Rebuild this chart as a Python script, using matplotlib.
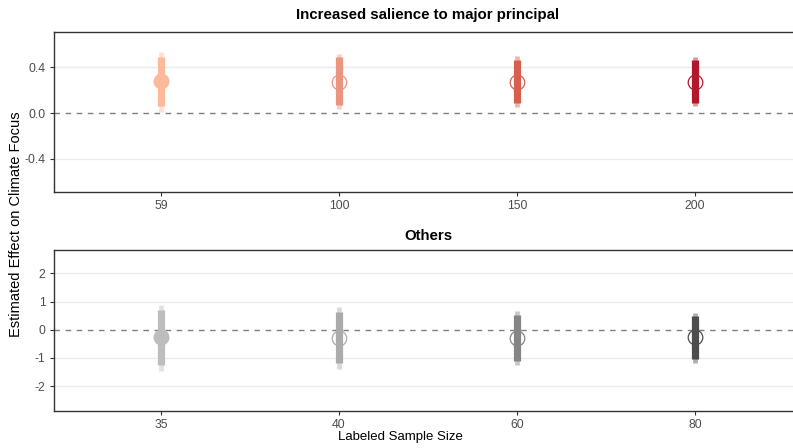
import matplotlib
matplotlib.use("Agg")
import matplotlib.pyplot as plt

plt.rcParams['font.family'] = ['Liberation Sans', 'DejaVu Sans']

# Top panel: increased salience to major principal
top_sizes = ["59", "100", "150", "200"]
top_est = [0.278, 0.276, 0.276, 0.276]
top_lo90 = [0.062, 0.070, 0.086, 0.092]
top_hi90 = [0.492, 0.490, 0.462, 0.462]
top_lo95 = [0.012, 0.035, 0.053, 0.062]
top_hi95 = [0.536, 0.520, 0.500, 0.492]
top_colors = ["#FDB99B", "#E9957F", "#D6604D", "#B2182B"]

# Bottom panel: others
bot_sizes = ["35", "40", "60", "80"]
bot_est = [-0.27, -0.28, -0.29, -0.27]
bot_lo90 = [-1.24, -1.17, -1.10, -1.04]
bot_hi90 = [0.71, 0.64, 0.53, 0.50]
bot_lo95 = [-1.45, -1.38, -1.26, -1.18]
bot_hi95 = [0.88, 0.81, 0.68, 0.61]
bot_colors = ["#BDBDBD", "#ABABAB", "#858585", "#4D4D4D"]

filled = [True, False, False, False]

fig = plt.figure(figsize=(7.93, 4.48), dpi=100)

W, H = 793, 448
def axes_px(left, top, right, bottom):
    return fig.add_axes([left / W, 1 - bottom / H, (right - left) / W, (bottom - top) / H])

ax_top = axes_px(54, 32, 802, 192)
ax_bot = axes_px(54, 250, 802, 411)


def draw_panel(ax, labels, est, lo90, hi90, lo95, hi95, colors, yticks, ylabels, ylim, title, pad):
    xs = list(range(1, len(labels) + 1))
    ax.set_xlim(0.4, len(labels) + 0.6)
    ax.set_ylim(*ylim)
    for yt in yticks:
        if yt != 0:
            ax.axhline(yt, color="#EBEBEB", lw=1.0, zorder=0)
    ax.axhline(0, color="#7F7F7F", lw=1.0, ls=(0, (4, 4)), zorder=1)
    for x, e, l9, h9, l5, h5, c, f in zip(xs, est, lo90, hi90, lo95, hi95, colors, filled):
        ax.plot([x, x], [l5, h5], color=c, alpha=0.45, lw=3.4,
                solid_capstyle="butt", zorder=2)
        ax.plot([x, x], [l9, h9], color=c, lw=5.2,
                solid_capstyle="butt", zorder=3)
        if f:
            ax.plot(x, e, "o", ms=10.5, color=c, mec=c, zorder=4)
        else:
            ax.plot(x, e, "o", ms=10.5, mfc="none", mec=c, mew=0.9, zorder=4)
    ax.set_xticks(xs)
    ax.set_xticklabels(labels)
    ax.set_yticks(yticks)
    ax.set_yticklabels(ylabels)
    ax.tick_params(axis="both", labelsize=8.8, labelcolor="#4D4D4D",
                   color="#333333", length=3, width=0.8, pad=3)
    for s in ax.spines.values():
        s.set_color("#333333")
        s.set_linewidth(1.0)
    ax.set_facecolor("white")
    ax.set_title(title, fontsize=10.8, fontweight="bold", pad=pad)


draw_panel(ax_top, top_sizes, top_est, top_lo90, top_hi90, top_lo95, top_hi95,
           top_colors, [-0.4, 0.0, 0.4], ["-0.4", "0.0", "0.4"], (-0.69, 0.71),
           "Increased salience to major principal", 9)
draw_panel(ax_bot, bot_sizes, bot_est, bot_lo90, bot_hi90, bot_lo95, bot_hi95,
           bot_colors, [-2, -1, 0, 1, 2], ["-2", "-1", "0", "1", "2"], (-2.88, 2.83),
           "Others", 7)

fig.text(16 / W, 1 - 224 / H, "Estimated Effect on Climate Focus", rotation=90,
         ha="center", va="center", fontsize=10.5)
fig.text(400 / W, 1 - 437 / H, "Labeled Sample Size", ha="center", va="center", fontsize=9.5)

fig.savefig("out.png", dpi=100)
